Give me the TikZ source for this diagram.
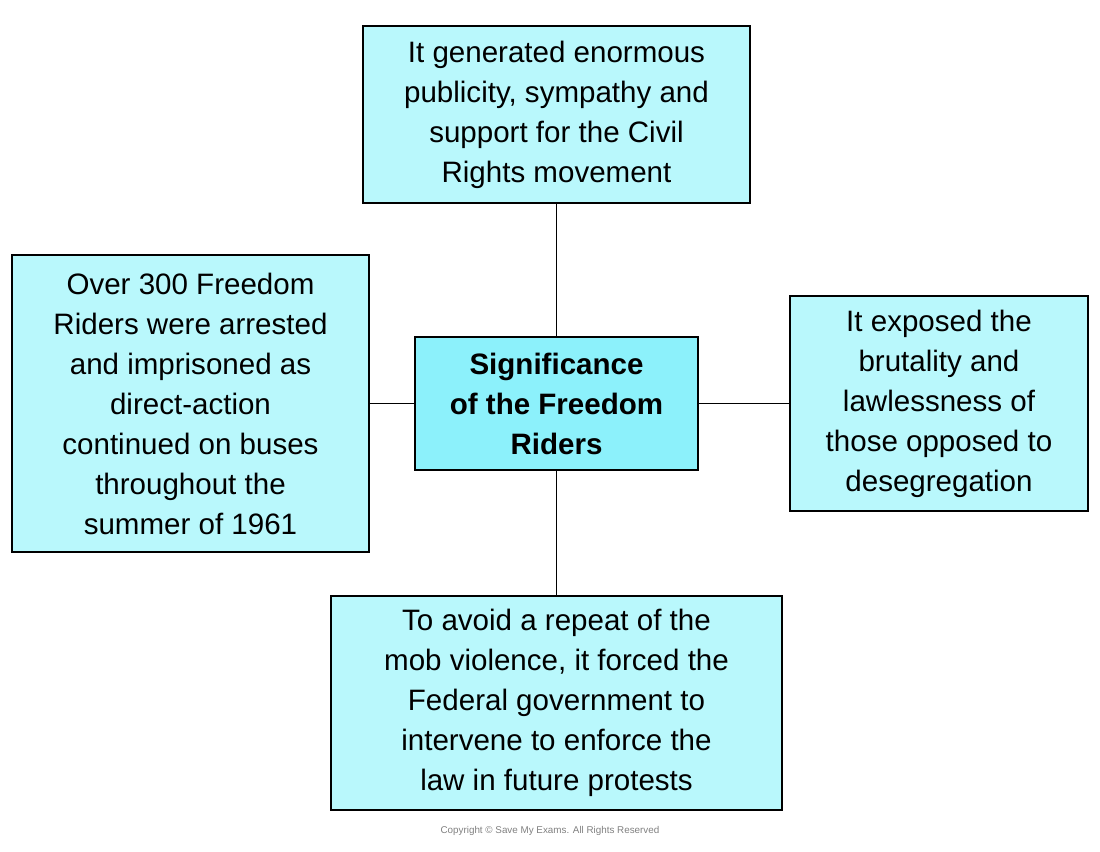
\documentclass[tikz,border=0pt]{standalone}
\usepackage{fontspec}
\setmainfont{Liberation Sans}
\definecolor{outerfill}{HTML}{B9F8FC}
\definecolor{innerfill}{HTML}{8CF1FB}

\begin{document}
\begin{tikzpicture}[x=0.025cm,y=-0.025cm,line width=0.8pt]
\tikzset{
  factbox/.style={draw,fill=outerfill,align=center,inner sep=0pt,
    font=\fontsize{21}{28.45}\selectfont},
  mainbox/.style={factbox,fill=innerfill,font=\fontsize{21}{28.45}\selectfont\bfseries}
}
\useasboundingbox (0,0) rectangle (1100,852);

\path (556.5,403.5) node (main) [mainbox,minimum width=283*0.025cm,minimum height=133*0.025cm]
  {Significance\\of the Freedom\\Riders};
\path (556.5,114.5) node (top) [factbox,minimum width=387*0.025cm,minimum height=177*0.025cm]
  {It generated enormous\\publicity, sympathy and\\support for the Civil\\Rights movement};
\path (190.5,403.5) node (left) [factbox,minimum width=357*0.025cm,minimum height=297*0.025cm]
  {Over 300 Freedom\\Riders were arrested\\and imprisoned as\\direct-action\\continued on buses\\throughout the\\summer of 1961};
\path (939,403.5) node (right) [factbox,minimum width=298*0.025cm,minimum height=215*0.025cm]
  {It exposed the\\brutality and\\lawlessness of\\those opposed to\\desegregation};
\path (556.5,703) node (bottom) [factbox,minimum width=451*0.025cm,minimum height=214*0.025cm]
  {To avoid a repeat of the\\mob violence, it forced the\\Federal government to\\intervene to enforce the\\law in future protests};
\path (550,831) node (copy) [text=gray,font=\fontsize{7}{8}\selectfont]
  {Copyright \textcopyright{} Save My Exams. All Rights Reserved};

\draw (main) -- (top);
\draw (main) -- (left);
\draw (main) -- (right);
\draw (main) -- (bottom);

\end{tikzpicture}
\end{document}
